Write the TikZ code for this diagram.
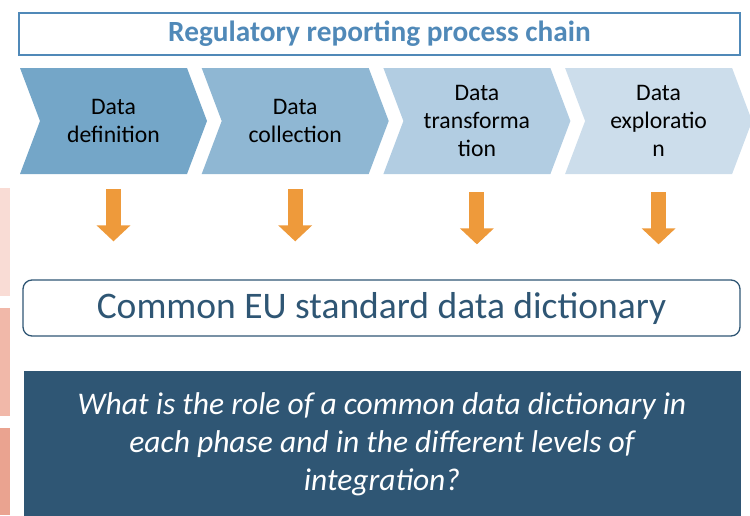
\documentclass[tikz,border=0pt]{standalone}
\usepackage{fontspec}
\setmainfont{Carlito}
\usetikzlibrary{arrows.meta}
\definecolor{titleblue}{HTML}{5089B8}
\definecolor{chevA}{HTML}{74A6C8}
\definecolor{chevB}{HTML}{8FB7D3}
\definecolor{chevC}{HTML}{B2CDE2}
\definecolor{chevD}{HTML}{CCDDEB}
\definecolor{dictblue}{HTML}{2F5674}
\definecolor{arroworange}{HTML}{EE9A3B}
\definecolor{stripA}{HTML}{F9DCD5}
\definecolor{stripB}{HTML}{F1B8A9}
\definecolor{stripC}{HTML}{EAA390}
\tikzset{
  chevtext/.style={align=center,minimum width=150pt,minimum height=106pt,inner sep=0pt,
    font=\fontsize{23.7}{28}\selectfont},
  blockarrow/.style={arroworange,line width=15pt,-{Triangle[width=33pt,length=16pt]}}
}
\begin{document}
\begin{tikzpicture}[x=1pt,y=-1pt]
        \useasboundingbox (0,0) rectangle (750,515);
        % strips on the left edge
        \fill[stripA] (0,188) rectangle (10,296);
        \fill[stripB] (0,308) rectangle (10,416);
        \fill[stripC] (0,428) rectangle (10,515);
        % title
        \node[draw=titleblue,line width=1.3pt,minimum width=721pt,minimum height=42pt,
          text=titleblue,font=\bfseries\fontsize{29.3}{33}\selectfont] (title) at (379.5,34) {Regulatory reporting process chain};
        % process chain
        \foreach \i/\col/\txt in {0/chevA/{Data\\definition},1/chevB/{Data\\collection},
            2/chevC/{Data\\transforma\\tion},3/chevD/{Data\\exploratio\\n}}{
          \fill[\col] (20+181.7*\i,68) -- ++(167,0) -- ++(20,53) -- ++(-20,53) -- ++(-167,0) -- ++(20,-53) -- cycle;
          \node[chevtext] (c\i) at (113.5+181.7*\i,121) {\txt};
        }
        % dictionary and question
        \node[draw=dictblue,line width=1.3pt,rounded corners=9pt,minimum width=717pt,minimum height=56pt,
          text=dictblue,font=\fontsize{37.5}{42}\selectfont] (dict) at (381.5,308) {Common EU standard data dictionary};
        \node[fill=dictblue,minimum width=717pt,minimum height=146pt,align=center,
          text=white,font=\itshape\fontsize{31.5}{38}\selectfont] (question) at (382,444)
          {What is the role of a common data dictionary in\\each phase and in the different levels of\\integration?};
        % arrows to the dictionary
        \draw[blockarrow,shorten <=15pt,shorten >=38pt] (c0.south) -- (c0.south |- dict.north);
        \draw[blockarrow,shorten <=15pt,shorten >=38pt] (c1.south) -- (c1.south |- dict.north);
        \draw[blockarrow,shorten <=18pt,shorten >=35pt] (c2.south) -- (c2.south |- dict.north);
        \draw[blockarrow,shorten <=18pt,shorten >=35pt] (c3.south) -- (c3.south |- dict.north);
\end{tikzpicture}
\end{document}
